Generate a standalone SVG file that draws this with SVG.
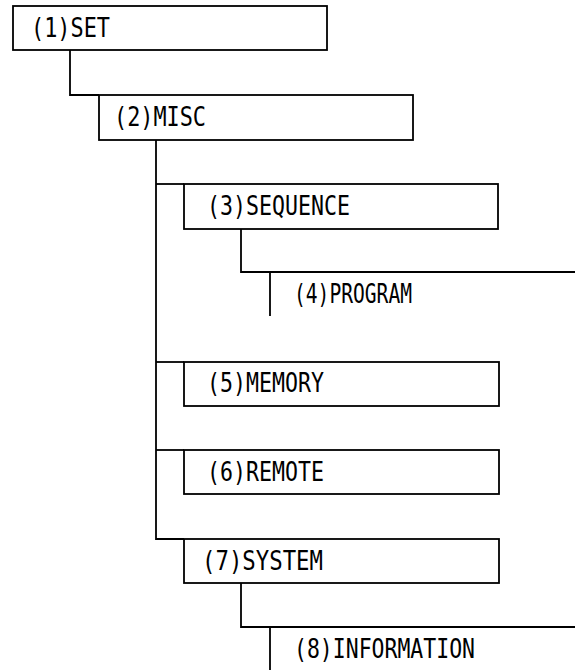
<svg xmlns="http://www.w3.org/2000/svg" width="575" height="670" viewBox="0 0 575 670">
<style>
.box{fill:#fff;stroke:#000;stroke-width:1.8}
.ln{fill:none;stroke:#000;stroke-width:1.8}
.t{font-family:"DejaVu Sans Mono","Liberation Mono",monospace;font-size:26px;fill:#000}
</style>
<rect width="575" height="670" fill="#fff"/>
<g id="connectors" class="ln">
<path d="M70,50 V95 H99"/>
<path d="M156,140 V539 H184"/>
<path d="M156,184 H184"/>
<path d="M156,362 H184"/>
<path d="M156,450 H184"/>
<path d="M241,229 V272 H270"/>
<path d="M241,583 V627 H270"/>
</g>
<g id="n1"><rect class="box" x="13" y="6" width="314" height="44"/><text class="t" x="31" y="37" textLength="79" lengthAdjust="spacingAndGlyphs">(1)SET</text></g>
<g id="n2"><rect class="box" x="99" y="95" width="314" height="45"/><text class="t" x="114" y="126" textLength="92" lengthAdjust="spacingAndGlyphs">(2)MISC</text></g>
<g id="n3"><rect class="box" x="184" y="184" width="314" height="45"/><text class="t" x="207" y="215" textLength="143" lengthAdjust="spacingAndGlyphs">(3)SEQUENCE</text></g>
<g id="n4"><path class="ln" d="M270,316 V272 H576"/><text class="t" x="294" y="303" textLength="118" lengthAdjust="spacingAndGlyphs">(4)PROGRAM</text></g>
<g id="n5"><rect class="box" x="184" y="362" width="315" height="44"/><text class="t" x="207" y="392" textLength="117" lengthAdjust="spacingAndGlyphs">(5)MEMORY</text></g>
<g id="n6"><rect class="box" x="184" y="450" width="315" height="44"/><text class="t" x="207" y="481" textLength="117" lengthAdjust="spacingAndGlyphs">(6)REMOTE</text></g>
<g id="n7"><rect class="box" x="184" y="539" width="315" height="44"/><text class="t" x="202" y="570" textLength="121" lengthAdjust="spacingAndGlyphs">(7)SYSTEM</text></g>
<g id="n8"><path class="ln" d="M270,671 V627 H576"/><text class="t" x="294" y="658" textLength="181" lengthAdjust="spacingAndGlyphs">(8)INFORMATION</text></g>
</svg>
